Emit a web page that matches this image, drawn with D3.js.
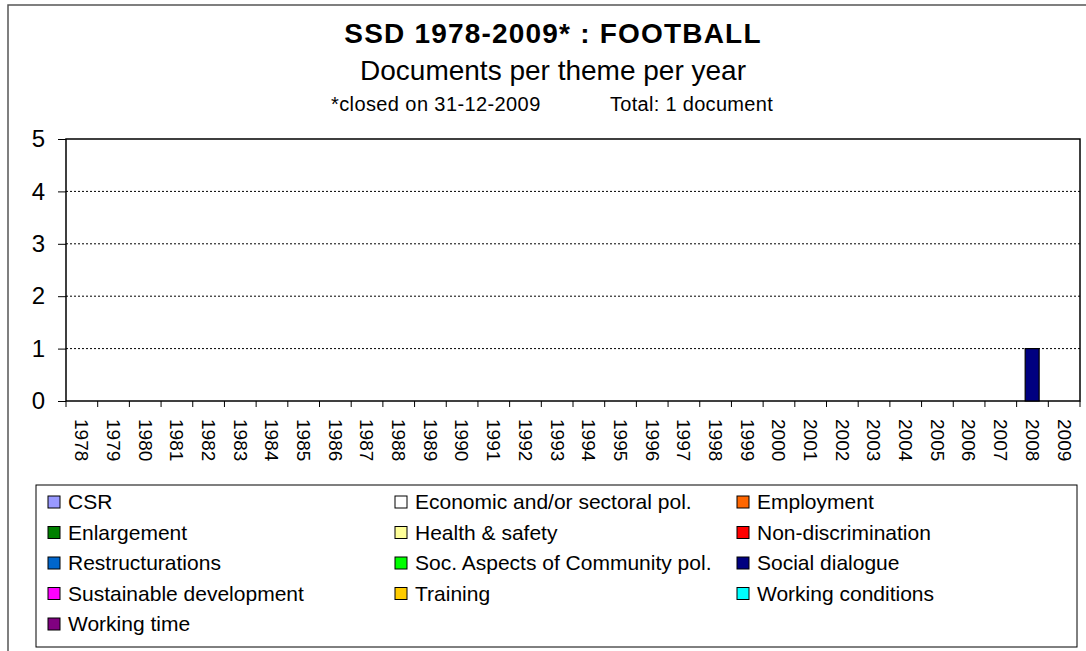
<!DOCTYPE html>
<html>
<head>
<meta charset="utf-8">
<script src="https://cdn.jsdelivr.net/npm/d3@7"></script>
<style>
  body { margin: 0; background: #fff; }
  svg { font-family: "Liberation Sans", Arial, sans-serif; }
</style>
</head>
<body>
<svg id="target" width="1086" height="651"></svg>
<script>
// Years on the x axis
let years = d3.range(1978, 2010).map(String);

// Themes (legend order) and their colours
let themes = ["CSR", "Economic and/or sectoral pol.", "Employment",
    "Enlargement", "Health & safety", "Non-discrimination",
    "Restructurations", "Soc. Aspects of Community pol.", "Social dialogue",
    "Sustainable development", "Training", "Working conditions",
    "Working time"];
let colors = ["#9999ff", "#ffffff", "#ff6600",
    "#008000", "#ffff99", "#ff0000",
    "#0066cc", "#00ff00", "#000080",
    "#ff00ff", "#ffcc00", "#00ffff",
    "#800080"];

// Documents per theme per year: only one document, Social dialogue in 2008
let socialDialogue = years.map(y => y === "2008" ? 1 : 0);
let counts = {"Social dialogue": socialDialogue};

let yTicks = [0, 1, 2, 3, 4, 5];

let margin = {top: 139, right: 6, bottom: 250, left: 66},
    width = 1086 - margin.left - margin.right,
    height = 651 - margin.top - margin.bottom;

let svg = d3.select("#target");

// Outer chart frame (runs off the right and bottom of the picture)
svg.append("rect")
    .attr("x", 8).attr("y", 5)
    .attr("width", 1100).attr("height", 700)
    .attr("fill", "none")
    .attr("stroke", "#555").attr("stroke-width", 1.5);

// Titles
svg.append("text")
    .attr("x", 553).attr("y", 43)
    .attr("text-anchor", "middle")
    .style("font-size", "28px").style("font-weight", "bold")
    .style("letter-spacing", "1.2px")
    .text("SSD 1978-2009* :  FOOTBALL");
svg.append("text")
    .attr("x", 553).attr("y", 80)
    .attr("text-anchor", "middle")
    .style("font-size", "28px")
    .text("Documents per theme per year");
svg.append("text")
    .attr("x", 331).attr("y", 111)
    .style("font-size", "20px")
    .style("letter-spacing", "0.4px")
    .text("*closed on 31-12-2009");
svg.append("text")
    .attr("x", 773).attr("y", 111)
    .attr("text-anchor", "end")
    .style("font-size", "20px")
    .style("letter-spacing", "0.3px")
    .text("Total: 1 document");

let g = svg.append("g")
    .attr("transform", "translate(" + margin.left + "," + margin.top + ")");

let x = d3.scaleBand()
    .domain(years)
    .range([0, width]);

let y = d3.scaleLinear()
    .domain([0, 5])
    .range([height, 0]);

// Gridlines
g.append("g")
    .selectAll("line")
    .data(yTicks.filter(d => d > 0 && d < 5))
    .enter()
    .append("line")
    .attr("x1", 0).attr("x2", width)
    .attr("y1", d => y(d)).attr("y2", d => y(d))
    .attr("stroke", "#000")
    .attr("stroke-dasharray", "2,2");

// Plot area border
g.append("rect")
    .attr("width", width).attr("height", height)
    .attr("fill", "none")
    .attr("stroke", "#000").attr("stroke-width", 1.5);

// Stacked bars
let stackData = years.map((yr, i) => {
    let row = {year: yr};
    themes.forEach(t => { row[t] = counts[t] ? counts[t][i] : 0; });
    return row;
});
let series = d3.stack().keys(themes)(stackData);

g.append("g")
    .selectAll("g")
    .data(series)
    .enter()
    .append("g")
    .attr("fill", (d, i) => colors[i])
    .selectAll("rect")
    .data(d => d.filter(v => v[1] - v[0] > 0))
    .enter()
    .append("rect")
    .attr("x", d => x(d.data.year) + x.bandwidth() * 0.27)
    .attr("width", x.bandwidth() * 0.44)
    .attr("y", d => y(d[1]))
    .attr("height", d => y(d[0]) - y(d[1]))
    .attr("stroke", "#000").attr("stroke-width", 1.2);

// Y axis
let yAxis = g.append("g")
    .call(d3.axisLeft(y).tickValues(yTicks).tickFormat(d3.format("d"))
        .tickSize(8).tickPadding(13));
yAxis.select(".domain").remove();
yAxis.selectAll("text").style("font-size", "24px").attr("fill", "#000");
yAxis.selectAll("line").attr("stroke", "#000");

// X axis: ticks at band boundaries, labels rotated
let xAxis = g.append("g")
    .attr("transform", "translate(0," + height + ")");
xAxis.selectAll("line")
    .data(years.concat(["end"]))
    .enter()
    .append("line")
    .attr("x1", (d, i) => i * x.step()).attr("x2", (d, i) => i * x.step())
    .attr("y1", 0).attr("y2", 6)
    .attr("stroke", "#000");
xAxis.selectAll("text")
    .data(years)
    .enter()
    .append("text")
    .attr("transform", d => "translate(" + (x(d) + x.bandwidth() / 2) + ",18) rotate(90)")
    .attr("dy", "0.35em")
    .style("font-size", "19px")
    .text(d => d);

// Legend
let legend = svg.append("g");
legend.append("rect")
    .attr("x", 36).attr("y", 485)
    .attr("width", 1041).attr("height", 162)
    .attr("fill", "none")
    .attr("stroke", "#000").attr("stroke-width", 1);

let colX = [48, 395, 737];
let items = legend.selectAll("g.item")
    .data(themes)
    .enter()
    .append("g")
    .attr("class", "item")
    .attr("transform", (d, i) => "translate(" + colX[i % 3] + "," + (502 + Math.floor(i / 3) * 30.5) + ")");
items.append("rect")
    .attr("x", 0).attr("y", -6)
    .attr("width", 12).attr("height", 12)
    .attr("fill", (d, i) => colors[i])
    .attr("stroke", "#000").attr("stroke-width", 1);
items.append("text")
    .attr("x", 20).attr("dy", "0.35em")
    .style("font-size", "21px")
    .text(d => d);
</script>
</body>
</html>
